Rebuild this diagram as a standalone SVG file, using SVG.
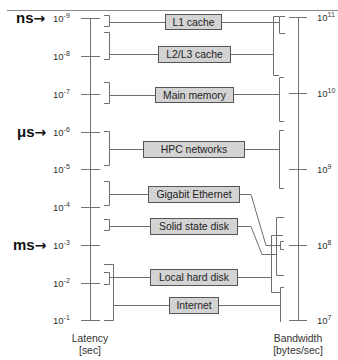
<svg xmlns="http://www.w3.org/2000/svg" width="338" height="360" viewBox="0 0 338 360">
<style>
text{font-family:"Liberation Sans","DejaVu Sans",Arial,sans-serif;}
.ln{fill:none;stroke:#6e6e6e;stroke-width:1;}
.ax{fill:none;stroke:#707070;stroke-width:1;}
.box{fill:#d3d3d3;stroke:#555;stroke-width:1;}
.bt{font-size:10.4px;fill:#1e1e1e;text-anchor:middle;}
.tk{font-size:9.5px;fill:#333;}
.sp{font-size:7px;}
.unit{font-size:15px;font-weight:bold;fill:#111;}
.arr{font-family:"DejaVu Sans",sans-serif;font-size:14px;font-weight:bold;}
.cap{font-size:10.4px;fill:#333;text-anchor:middle;}
</style>
<rect width="338" height="360" fill="#fff"/>
<line x1="7" y1="10.5" x2="338" y2="10.5" stroke="#888" stroke-width="1"/>

<g id="latency-axis">
<path class="ax" d="M90.5 18V320M81 18.5H100M81 56.5H100M81 94.5H100M81 132.5H100M81 169.5H100M81 207.5H100M81 245.5H100M81 283.5H100M81 320.5H100"/>
<text class="tk" x="53" y="21.5">10<tspan class="sp" dy="-4">-9</tspan></text>
<text class="tk" x="53" y="59.5">10<tspan class="sp" dy="-4">-8</tspan></text>
<text class="tk" x="53" y="97.5">10<tspan class="sp" dy="-4">-7</tspan></text>
<text class="tk" x="53" y="135.5">10<tspan class="sp" dy="-4">-6</tspan></text>
<text class="tk" x="53" y="172.5">10<tspan class="sp" dy="-4">-5</tspan></text>
<text class="tk" x="53" y="210.5">10<tspan class="sp" dy="-4">-4</tspan></text>
<text class="tk" x="53" y="248.5">10<tspan class="sp" dy="-4">-3</tspan></text>
<text class="tk" x="53" y="286.5">10<tspan class="sp" dy="-4">-2</tspan></text>
<text class="tk" x="53" y="323.5">10<tspan class="sp" dy="-4">-1</tspan></text>
<text class="unit" x="16" y="23">ns<tspan class="arr">→</tspan></text>
<text class="unit" x="17" y="137">μs<tspan class="arr">→</tspan></text>
<text class="unit" x="13" y="250">ms<tspan class="arr">→</tspan></text>
<text class="cap" x="90" y="342">Latency</text>
<text class="cap" x="90" y="354">[sec]</text>
</g>

<g id="bandwidth-axis">
<path class="ax" d="M298.5 17V320M289 17.5H307M289 93.5H307M289 169.5H307M289 245.5H307M289 320.5H307"/>
<text class="tk" x="317" y="21">10<tspan class="sp" dy="-4">11</tspan></text>
<text class="tk" x="317" y="97">10<tspan class="sp" dy="-4">10</tspan></text>
<text class="tk" x="317" y="173">10<tspan class="sp" dy="-4">9</tspan></text>
<text class="tk" x="317" y="249">10<tspan class="sp" dy="-4">8</tspan></text>
<text class="tk" x="317" y="324">10<tspan class="sp" dy="-4">7</tspan></text>
<text class="cap" x="298" y="342">Bandwidth</text>
<text class="cap" x="298" y="354">[bytes/sec]</text>
</g>

<g id="connectors">
<!-- left brackets -->
<path class="ln" d="M104 15.5H109.5V26.5H104M109.5 22.5H165"/>
<path class="ln" d="M104 32.5H109.5V59.5H104M109.5 54.5H158"/>
<path class="ln" d="M104 82.5H109.5V103.5H104M109.5 95.5H155"/>
<path class="ln" d="M104 131.5H109.5V165.5H104M109.5 149.5H143"/>
<path class="ln" d="M104 181.5H109.5V205.5H104M109.5 194.5H148"/>
<path class="ln" d="M104 219.5H109.5V230.5H104M109.5 226.5H150"/>
<path class="ln" d="M104 272.5H109.5V284.5H104M109.5 277.5H150"/>
<path class="ln" d="M104 264.5H113.5V320.5H104M113.5 305.5H169"/>
<!-- right brackets -->
<path class="ln" d="M221 22.5H279.5"/>
<path class="ln" d="M285 16.5H279.5V33.5H285"/>
<path class="ln" d="M279 16.5H273.5V75.5H279M231 54.5H273.5"/>
<path class="ln" d="M284 77.5H279.5V121.5H284M234 94.5H279.5"/>
<path class="ln" d="M284 130.5H279.5V188.5H284M245 149.5H279.5"/>
<path class="ln" d="M240 194.5H251L266 245.5H280.5M284 241.5H280.5V249.5H284"/>
<path class="ln" d="M238 226.5H251L262 254.5H276.5M284 217.5H276.5V275.5H284"/>
<path class="ln" d="M283 235.5H271.5V292.5H280.5M238 277.5H271.5"/>
<path class="ln" d="M284 287.5H280.5V322M218 305.5H280.5"/>
</g>

<g id="n-l1"><rect class="box" x="165.5" y="14.5" width="56" height="15"/><text class="bt" x="193.5" y="25.5">L1 cache</text></g>
<g id="n-l2l3"><rect class="box" x="158.5" y="46.5" width="72" height="16"/><text class="bt" x="194.5" y="58">L2/L3 cache</text></g>
<g id="n-mem"><rect class="box" x="155.5" y="87.5" width="78" height="15"/><text class="bt" x="194.5" y="98.5">Main memory</text></g>
<g id="n-hpc"><rect class="box" x="143.5" y="141.5" width="101" height="16"/><text class="bt" x="194" y="153">HPC networks</text></g>
<g id="n-gige"><rect class="box" x="148.5" y="186.5" width="91" height="16"/><text class="bt" x="194" y="198">Gigabit Ethernet</text></g>
<g id="n-ssd"><rect class="box" x="150.5" y="218.5" width="87" height="16"/><text class="bt" x="194" y="230">Solid state disk</text></g>
<g id="n-hdd"><rect class="box" x="150.5" y="269.5" width="87" height="16"/><text class="bt" x="194" y="281">Local hard disk</text></g>
<g id="n-inet"><rect class="box" x="169.5" y="297.5" width="49" height="16"/><text class="bt" x="194" y="309">Internet</text></g>
</svg>
